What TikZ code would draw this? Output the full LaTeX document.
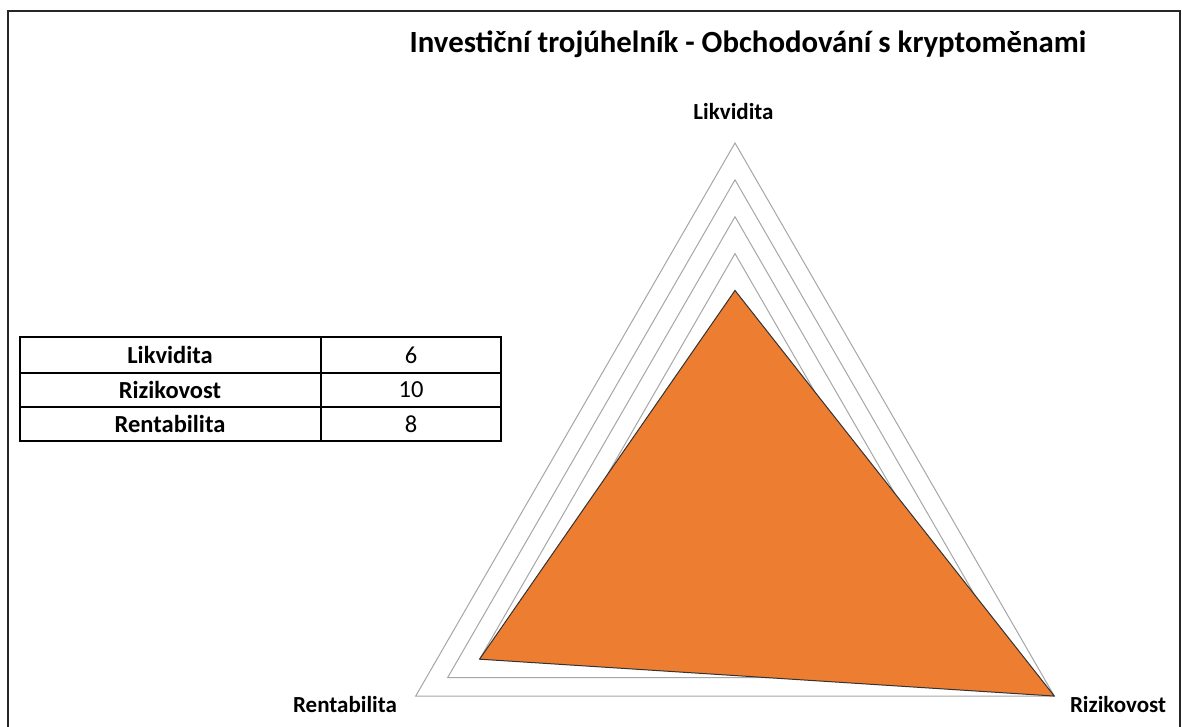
\documentclass[tikz,border=0pt]{standalone}
\usepackage{fontspec}
\setmainfont{Carlito}
\usetikzlibrary{calc}
\definecolor{dataorange}{HTML}{ED7D31}
\definecolor{gridgray}{HTML}{A6A6A6}

\begin{document}
\begin{tikzpicture}[x=1pt, y=1pt,
	gridline/.style={gridgray, line width=1pt},
	cellrule/.style={black, line width=2pt},
	axislabel/.style={font=\fontsize{23}{27}\selectfont\bfseries},
	celltext/.style={font=\fontsize{24.5}{29}\selectfont}]
\useasboundingbox (0,0) rectangle (1182,726);
% frame (bottom edge falls outside the page)
\draw[black!85, line width=2pt](8,-10)--(8,714.5)--(1180,714.5)--(1180,-10);
% title
\node[font=\fontsize{30.8}{36}\selectfont\bfseries] (title) at (748,682) {Investiční trojúhelník - Obchodování s kryptoměnami};
% radar grid, one unit = 36.87pt
\coordinate (C) at (735,214.3);
\foreach \r in {1,...,10}{
	\draw[gridline] ($(C)+(90:\r*36.87)$)--($(C)+(210:\r*36.87)$)--($(C)+(330:\r*36.87)$)--cycle;
}
\coordinate (likv) at ($(C)+(90:6*36.87)$);
\coordinate (rent) at ($(C)+(210:8*36.87)$);
\coordinate (rizi) at ($(C)+(330:10*36.87)$);
\filldraw[fill=dataorange, draw=black!80, line width=1pt, line join=round](likv)--(rent)--(rizi)--cycle;
% axis labels
\node[axislabel] (lbllikv) at (733.5,614) {Likvidita};
\node[axislabel] (lblrizi) at (1118,21) {Rizikovost};
\node[axislabel] (lblrent) at (345,21) {Rentabilita};
% table
\draw[cellrule](19.5,285) rectangle (501,389);
\draw[cellrule](320.7,285)--(320.7,389);
\draw[cellrule](19.5,353.3)--(501,353.3);
\draw[cellrule](19.5,319)--(501,319);
\node[celltext, font=\fontsize{24.5}{29}\selectfont\bfseries] (k1) at (170,371) {Likvidita};
\node[celltext] (v1) at (411,371) {6};
\node[celltext, font=\fontsize{24.5}{29}\selectfont\bfseries] (k2) at (170,336.2) {Rizikovost};
\node[celltext] (v2) at (411,336.2) {10};
\node[celltext, font=\fontsize{24.5}{29}\selectfont\bfseries] (k3) at (170,302) {Rentabilita};
\node[celltext] (v3) at (411,302) {8};
\end{tikzpicture}
\end{document}
